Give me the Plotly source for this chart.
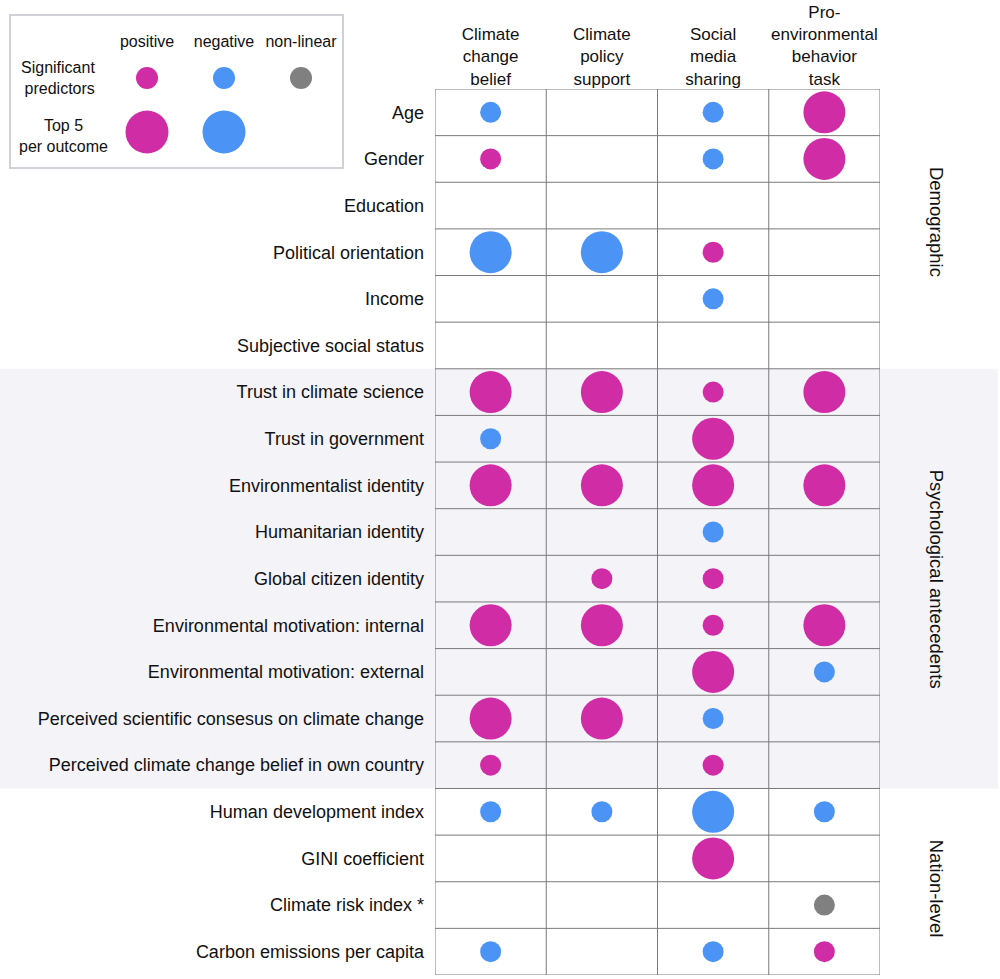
import plotly.graph_objects as go

# ---------------- data ----------------
outcomes = ["Climate<br>change<br>belief", "Climate<br>policy<br>support",
            "Social<br>media<br>sharing", "Pro-<br>environmental<br>behavior<br>task"]
predictors = ["Age", "Gender", "Education", "Political orientation", "Income",
              "Subjective social status", "Trust in climate science", "Trust in government",
              "Environmentalist identity", "Humanitarian identity", "Global citizen identity",
              "Environmental motivation: internal", "Environmental motivation: external",
              "Perceived scientific consesus on climate change",
              "Perceived climate change belief in own country",
              "Human development index", "GINI coefficient", "Climate risk index *",
              "Carbon emissions per capita"]
# codes: p = positive, n = negative, g = non-linear; uppercase = top 5 per outcome
climate_change_belief = ["n", "p", "", "N", "", "", "P", "n", "P", "", "", "P", "", "P", "p", "n", "", "", "n"]
climate_policy_support = ["", "", "", "N", "", "", "P", "", "P", "", "p", "P", "", "P", "", "n", "", "", ""]
social_media_sharing = ["n", "n", "", "p", "n", "", "p", "P", "P", "n", "p", "p", "P", "n", "p", "N", "P", "", "n"]
pro_env_behavior = ["P", "P", "", "", "", "", "P", "", "P", "", "", "P", "n", "", "", "n", "", "g", "p"]
groups = ["Demographic", "Psychological antecedents", "Nation-level"]
group_sizes = [6, 9, 4]
group_colors = ["#5cb6e0", "#8e3b9c", "#3c5a9a"]

legend_kinds = ["positive", "negative", "non-linear"]
legend_rows = ["Significant<br>predictors", "Top 5<br>per outcome"]
legend_codes = [["p", "n", "g"], ["P", "N", ""]]

COLORS = {"p": "#d02ca6", "n": "#4b93f5", "g": "#808080"}
SMALL, BIG = 21, 42

W, H = 1000, 979
def px(x):
    return x / W
def py(y):
    return 1 - y / H

fig = go.Figure()

columns = [climate_change_belief, climate_policy_support, social_media_sharing, pro_env_behavior]
xs, ys, cols, sizes = [], [], [], []
for ci, col in enumerate(columns):
    for ri, code in enumerate(col):
        if code:
            xs.append(outcomes[ci])
            ys.append(predictors[ri])
            cols.append(COLORS[code.lower()])
            sizes.append(BIG if code.isupper() else SMALL)

fig.add_trace(go.Scatter(x=xs, y=ys, mode="markers",
                         marker=dict(color=cols, size=sizes, line=dict(width=0), opacity=1),
                         xaxis="x", yaxis="y", hoverinfo="skip", showlegend=False))

# legend markers
lx, ly, lc, ls = [], [], [], []
for ri, row in enumerate(legend_codes):
    for ci, code in enumerate(row):
        if code:
            lx.append(legend_kinds[ci])
            ly.append(legend_rows[ri])
            lc.append(COLORS[code.lower()])
            ls.append(BIG + 1 if code.isupper() else SMALL + 1)
fig.add_trace(go.Scatter(x=lx, y=ly, mode="markers",
                         marker=dict(color=lc, size=ls, line=dict(width=0), opacity=1),
                         xaxis="x2", yaxis="y2", hoverinfo="skip", showlegend=False))

FONT = "Liberation Sans, Arial, sans-serif"
n = len(predictors)
grid_top, grid_bot = 89, 975
grid_left, grid_right = 435, 880
label_nudge = [-0.15, 0.0, 0.15]  # small vertical nudge of group titles (rows)

shapes = []
# psychological band
start = 0
for gi, gs in enumerate(group_sizes):
    if gi == 1:
        shapes.append(dict(type="rect", xref="paper", yref="y", x0=0, x1=px(998),
                           y0=start - 0.5, y1=start + gs - 0.5,
                           fillcolor="#f4f3f8", line=dict(width=0), layer="below"))
    start += gs
# horizontal grid lines
for i in range(n + 1):
    shapes.append(dict(type="line", xref="x", yref="y", x0=-0.5, x1=3.5, y0=i - 0.5, y1=i - 0.5,
                       line=dict(color="#7a7a7a", width=1)))
# vertical grid lines
for j in range(len(outcomes) + 1):
    shapes.append(dict(type="line", xref="x", yref="y", x0=j - 0.5, x1=j - 0.5, y0=-0.5, y1=n - 0.5,
                       line=dict(color="#7a7a7a", width=1)))
# group bars
start = 0
annotations = []
for gi, gs in enumerate(group_sizes):
    shapes.append(dict(type="line", xref="x", yref="y", x0=3.52, x1=3.52,
                       y0=start - 0.5, y1=start + gs - 0.5,
                       line=dict(color=group_colors[gi], width=3)))
    annotations.append(dict(xref="paper", yref="y", x=px(936),
                            y=start + (gs - 1) / 2 + label_nudge[gi],
                            text=groups[gi], textangle=90, showarrow=False,
                            font=dict(size=18.5, color="#111", family=FONT),
                            xanchor="center", yanchor="middle"))
    start += gs

# legend box
shapes.append(dict(type="rect", xref="paper", yref="paper", x0=px(10), x1=px(343),
                   y0=py(168), y1=py(15), line=dict(color="#cfd0d8", width=2),
                   fillcolor="rgba(0,0,0,0)"))
annotations.append(dict(xref="paper", yref="paper", x=px(97), y=py(78),
                        text="Significant<br>predictors", showarrow=False, align="right",
                        xanchor="right", yanchor="middle",
                        font=dict(size=16, color="#111", family=FONT)))
annotations.append(dict(xref="paper", yref="paper", x=px(63), y=py(136),
                        text="Top 5<br>per outcome", showarrow=False, align="center",
                        xanchor="center", yanchor="middle",
                        font=dict(size=16, color="#111", family=FONT)))

fig.update_layout(
    width=W, height=H, autosize=False,
    margin=dict(l=0, r=0, t=0, b=0),
    paper_bgcolor="white", plot_bgcolor="rgba(0,0,0,0)",
    shapes=shapes, annotations=annotations,
    xaxis=dict(domain=[px(grid_left), px(grid_right)], range=[-0.5, 3.5],
               categoryorder="array", categoryarray=outcomes,
               side="top", showgrid=False, zeroline=False, showline=False, ticks="",
               tickfont=dict(size=17, color="#111", family=FONT), fixedrange=True),
    yaxis=dict(domain=[py(grid_bot), py(grid_top)], range=[n - 0.5, -0.5],
               categoryorder="array", categoryarray=predictors,
               showgrid=False, zeroline=False, showline=False, ticks="",
               ticklabelstandoff=10,
               tickfont=dict(size=18, color="#111", family=FONT), fixedrange=True),
    xaxis2=dict(domain=[px(108.5), px(339.5)], range=[-0.5, 2.5], anchor="y2",
                categoryorder="array", categoryarray=legend_kinds,
                side="top", showgrid=False, zeroline=False, showline=False, ticks="",
                tickfont=dict(size=16, color="#111", family=FONT), fixedrange=True),
    yaxis2=dict(domain=[py(159), py(51)], range=[1.5, -0.5], anchor="x2",
                categoryorder="array", categoryarray=legend_rows,
                showgrid=False, zeroline=False, showline=False, showticklabels=False,
                fixedrange=True),
)

fig.write_html("out.html", config={"displayModeBar": False},
               post_script="document.body.style.margin='0';")
